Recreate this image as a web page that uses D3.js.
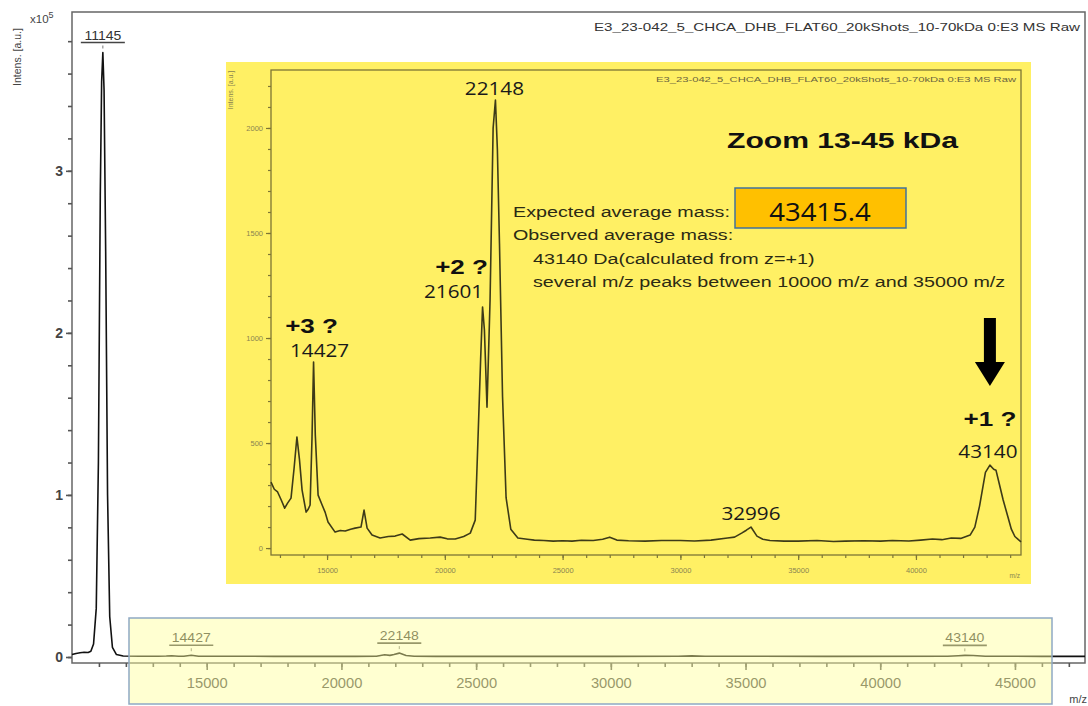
<!DOCTYPE html>
<html>
<head>
<meta charset="utf-8">
<script src="https://cdn.jsdelivr.net/npm/d3@7/dist/d3.min.js"></script>
<style>
  html, body { margin: 0; padding: 0; background: #fff; }
  svg { display: block; font-family: "Liberation Sans", Arial, sans-serif; }
</style>
</head>
<body>
<svg id="chart" width="1088" height="706"></svg>
<script>
// ---- Overview spectrum (m/z, intensity in a.u.) ----
const overviewMz = [10000, 10150, 10300, 10450, 10600, 10700, 10800, 10900, 10980, 11050, 11100, 11145, 11190, 11250, 11320, 11400, 11500, 11650, 11900, 12500,
  13200, 13500, 13700, 13950, 14150, 14427, 14700, 15200, 16600, 17500, 20500, 21300, 21601, 21800, 21950, 22148, 22400, 22700, 23500,
  30000, 32500, 32996, 33500, 38000, 42500, 42900, 43140, 43450, 43900, 46000, 47600];
const overviewInt = [1500, 2200, 2600, 2900, 2800, 3500, 8000, 30000, 120000, 285000, 355000, 373000, 350000, 250000, 100000, 25000, 6000, 1500, 600, 500,
  500, 600, 800, 500, 450, 1100, 500, 450, 500, 400, 400, 500, 1400, 1000, 1500, 2400, 900, 450, 400,
  400, 450, 700, 450, 400, 450, 800, 1000, 900, 450, 400, 400];

// ---- Zoomed spectrum 13-45 kDa ----
const zoomMz = [12620, 12760, 12900, 13050, 13200, 13330, 13470, 13600, 13720, 13830, 13940, 14110, 14200, 14280, 14360, 14427, 14500, 14620, 14790, 14920, 15040, 15340, 15560, 15770, 16000, 16190, 16440, 16570, 16700, 16910, 17250, 17600,
  17890, 18190, 18530, 18900, 19380, 19800, 20100, 20440, 20800, 21080, 21290, 21420, 21520, 21601, 21680, 21790, 21920, 22050, 22148, 22230, 22320, 22450, 22600, 22800, 23100, 23500,
  23800, 24200, 24600, 25000, 25400, 25800, 26300, 26700, 27000, 27300, 27800, 28500, 29200, 30000, 30600, 31300, 32000, 32300, 32600, 32800, 32996, 33250, 33500, 33800, 34400,
  35000, 35800, 36500, 37000, 37800, 38500, 39000, 39700, 40200, 40700, 41100, 41500, 41900, 42300, 42500, 42700, 42950, 43140, 43300, 43400, 43550, 43700, 43900, 44050, 44200, 44350, 44460];
const zoomInt = [314, 280, 267, 230, 190, 215, 238, 380, 529, 420, 276, 171, 185, 205, 520, 886, 540, 252, 205, 170, 124, 76, 84, 81, 90, 95, 100, 181, 95, 62, 48, 55,
  57, 67, 38, 45, 48, 52, 44, 43, 55, 71, 133, 562, 900, 1148, 1038, 671, 1181, 2000, 2133, 1900, 1450, 720, 240, 90, 48, 42,
  38, 36, 33, 35, 33, 37, 36, 42, 52, 38, 35, 33, 36, 36, 34, 38, 48, 52, 71, 85, 100, 57, 42, 36, 33,
  33, 36, 31, 33, 35, 33, 36, 34, 38, 43, 40, 48, 46, 62, 100, 200, 360, 395, 375, 370, 300, 230, 150, 90, 55, 40, 30];

// ---- Ticks and labels ----
const overviewYTicks = [0, 100000, 200000, 300000];
const overviewYTickLabels = ["0", "1", "2", "3"];
const overviewXTicks = [15000, 20000, 25000, 30000, 35000, 40000, 45000];
const zoomYTicks = [0, 500, 1000, 1500, 2000];
const zoomXTicks = [15000, 20000, 25000, 30000, 35000, 40000];

const overviewPeaks = [11145, 14427, 22148, 43140];
const zoomPeaks = [14427, 21601, 22148, 32996, 43140];
const zoomCharges = ["+3 ?", "+2 ?", "", "", "+1 ?"];
const expectedMass = "43415.4";
const fileTitle = "E3_23-042_5_CHCA_DHB_FLAT60_20kShots_10-70kDa 0:E3 MS Raw";
const notes = [
  "Expected average mass:",
  "Observed average mass:",
  "43140 Da(calculated from z=+1)",
  "several m/z peaks between 10000 m/z and 35000 m/z"
];

const svg = d3.select("#chart");
const overview = d3.zip(overviewMz, overviewInt);
const zoomed = d3.zip(zoomMz, zoomInt);
const valueAt = (mz, arrX, arrY) => {
  const i = arrX.indexOf(mz);
  return i >= 0 ? arrY[i] : 0;
};
// widen glyphs horizontally by factor k around the text's anchor point
function stretch(sel, k) {
  sel.each(function () {
    const t = d3.select(this);
    const ax = +t.attr("x") || 0;
    t.attr("transform", `translate(${ax},0) scale(${k},1) translate(${-ax},0)`);
  });
  return sel;
}

// ================= Overview plot =================
const x = d3.scaleLinear().domain([10000, 47600]).range([72, 1085]);
const y = d3.scaleLinear().domain([-3700, 398000]).range([663, 12]);
const axisColor = "#555";

svg.append("rect")
  .attr("x", x.range()[0]).attr("y", y.range()[1])
  .attr("width", x.range()[1] - x.range()[0]).attr("height", y.range()[0] - y.range()[1])
  .attr("fill", "none").attr("stroke", "#666").attr("stroke-width", 1.5);

const gyMinor = svg.append("g").attr("transform", `translate(${x.range()[0]},0)`)
  .call(d3.axisLeft(y).tickValues(d3.range(0, 390000, 20000)).tickSize(4).tickFormat(""));
const gy = svg.append("g").attr("transform", `translate(${x.range()[0]},0)`)
  .call(d3.axisLeft(y).tickValues(overviewYTicks).tickSize(6)
    .tickFormat((d, i) => overviewYTickLabels[i]));
[gyMinor, gy].forEach(g => {
  g.select(".domain").remove();
  g.selectAll("line").attr("stroke", axisColor).attr("stroke-width", 1.6);
});
gy.selectAll("text").attr("fill", "#444").attr("font-size", 14).attr("font-weight", "bold").attr("x", -9);

const gxMinor = svg.append("g").attr("transform", `translate(0,${y.range()[0]})`)
  .call(d3.axisBottom(x).tickValues(d3.range(11000, 47601, 1000)).tickSize(4).tickFormat(""));
const gx = svg.append("g").attr("transform", `translate(0,${y.range()[0]})`)
  .call(d3.axisBottom(x).tickValues(overviewXTicks).tickSize(7).tickFormat(d3.format("d")));
[gxMinor, gx].forEach(g => {
  g.select(".domain").remove();
  g.selectAll("line").attr("stroke", axisColor).attr("stroke-width", 1.6);
});
gx.selectAll("text").attr("fill", "#444").attr("font-size", 14).attr("dy", "1.05em");
stretch(gx.selectAll("text"), 1.05);

svg.append("text").attr("transform", "translate(21,57) rotate(-90)")
  .attr("text-anchor", "middle").attr("font-size", 10.5).attr("fill", "#444").text("Intens. [a.u.]");
const exp = svg.append("text").attr("x", 30).attr("y", 23).attr("font-size", 11.5).attr("fill", "#444");
exp.append("tspan").text("x10");
exp.append("tspan").attr("dy", -5).attr("font-size", 9).text("5");
svg.append("text").attr("x", 1087).attr("y", 703).attr("text-anchor", "end")
  .attr("font-size", 11).attr("fill", "#444").text("m/z");

svg.append("text").attr("x", 1080).attr("y", 31).attr("text-anchor", "end")
  .attr("font-size", 11).attr("fill", "#333")
  .attr("textLength", 486).attr("lengthAdjust", "spacingAndGlyphs").text(fileTitle);

const line = d3.line().x(d => x(d[0])).y(d => y(d[1]));
svg.append("path").datum(overview)
  .attr("d", line).attr("fill", "none").attr("stroke", "#111").attr("stroke-width", 1.6)
  .attr("stroke-linejoin", "round");

// peak labels: value, underline bar, small marker tick
overviewPeaks.forEach(mz => {
  const px = x(mz);
  const ty = y(valueAt(mz, overviewMz, overviewInt)) - 10;
  const t = svg.append("text").attr("x", px).attr("y", ty - 3).attr("text-anchor", "middle")
    .attr("font-size", 13).attr("fill", "#333").text(mz);
  stretch(t, 1.08);
  svg.append("line").attr("x1", px - 22).attr("x2", px + 22).attr("y1", ty).attr("y2", ty)
    .attr("stroke", "#444").attr("stroke-width", 1.6);
  svg.append("line").attr("x1", px).attr("x2", px).attr("y1", ty + 3).attr("y2", ty + 6)
    .attr("stroke", "#777").attr("stroke-width", 1);
});

// highlighted range under the overview axis
svg.append("rect").attr("x", 129).attr("y", 618).attr("width", 923).attr("height", 86)
  .attr("fill", "#ffff99").attr("fill-opacity", 0.45)
  .attr("stroke", "#8fa9c4").attr("stroke-width", 1.5);

// ================= Zoom panel 13-45 kDa =================
const panel = svg.append("g");
panel.append("rect").attr("x", 226).attr("y", 62).attr("width", 805).attr("height", 522)
  .attr("fill", "#fff064");

const xi = d3.scaleLinear().domain([12620, 44460]).range([271, 1021]);
const yi = d3.scaleLinear().domain([-33, 2276]).range([555, 70]);
const olive = "#7d7535";

panel.append("rect")
  .attr("x", xi.range()[0]).attr("y", yi.range()[1])
  .attr("width", xi.range()[1] - xi.range()[0]).attr("height", yi.range()[0] - yi.range()[1])
  .attr("fill", "none").attr("stroke", olive).attr("stroke-width", 1.3);

const pyMinor = panel.append("g").attr("transform", `translate(${xi.range()[0]},0)`)
  .call(d3.axisLeft(yi).tickValues(d3.range(0, 2201, 100)).tickSize(3).tickFormat(""));
const py = panel.append("g").attr("transform", `translate(${xi.range()[0]},0)`)
  .call(d3.axisLeft(yi).tickValues(zoomYTicks).tickSize(5).tickFormat(d3.format("d")));
const pxMinor = panel.append("g").attr("transform", `translate(0,${yi.range()[0]})`)
  .call(d3.axisBottom(xi).tickValues(d3.range(13000, 44001, 1000)).tickSize(3).tickFormat(""));
const px = panel.append("g").attr("transform", `translate(0,${yi.range()[0]})`)
  .call(d3.axisBottom(xi).tickValues(zoomXTicks).tickSize(5).tickFormat(d3.format("d")));
[pyMinor, py, pxMinor, px].forEach(g => {
  g.select(".domain").remove();
  g.selectAll("line").attr("stroke", olive).attr("stroke-width", 1.2);
  g.selectAll("text").attr("fill", "#8a8450").attr("font-size", 7.5);
});
px.selectAll("text").attr("dy", "1.3em");

panel.append("text").attr("transform", "translate(233,90) rotate(-90)")
  .attr("text-anchor", "middle").attr("font-size", 7).attr("fill", "#8a8450").text("Intens. [a.u.]");
panel.append("text").attr("x", 1020).attr("y", 578).attr("text-anchor", "end")
  .attr("font-size", 6.5).attr("fill", "#8a8450").text("m/z");
panel.append("text").attr("x", 1016).attr("y", 82).attr("text-anchor", "end")
  .attr("font-size", 7).attr("fill", "#6b6540")
  .attr("textLength", 360).attr("lengthAdjust", "spacingAndGlyphs").text(fileTitle);

const lineI = d3.line().x(d => xi(d[0])).y(d => yi(d[1]));
panel.append("path").datum(zoomed)
  .attr("d", lineI).attr("fill", "none").attr("stroke", "#3d3a18").attr("stroke-width", 1.6)
  .attr("stroke-linejoin", "round");

// peak annotations: [number dx, number dy, charge dx, charge dy] relative to the peak apex
const labelPlacement = {
  14427: [6, -5, -2, -29],
  21601: [-29, -9, -21, -33],
  22148: [-1, -5, 0, 0],
  32996: [0, -7, 0, 0],
  43140: [-2, -7, 0, -39]
};
const labelFont = "'Open Sans', 'Noto Sans', sans-serif";
zoomPeaks.forEach((mz, i) => {
  const cx = xi(mz);
  const top = yi(valueAt(mz, zoomMz, zoomInt));
  const [ndx, ndy, cdx, cdy] = labelPlacement[mz];
  const t = panel.append("text").attr("x", cx + ndx).attr("y", top + ndy).attr("text-anchor", "middle")
    .attr("font-family", labelFont).attr("font-size", 18).attr("fill", "#1a1a1a").text(mz);
  stretch(t, 1.15);
  if (zoomCharges[i]) {
    const c = panel.append("text").attr("x", cx + cdx).attr("y", top + cdy).attr("text-anchor", "middle")
      .attr("font-size", 20).attr("font-weight", "bold").attr("fill", "#111").text(zoomCharges[i]);
    stretch(c, 1.3);
  }
});

// arrow pointing down at the +1 peak
const ax = xi(43140);
panel.append("path")
  .attr("d", `M${ax - 6},318 L${ax + 6},318 L${ax + 6},362 L${ax + 15},362 L${ax},386 L${ax - 15},362 L${ax - 6},362 Z`)
  .attr("fill", "#000");

const heading = panel.append("text").attr("x", 727).attr("y", 148)
  .attr("font-size", 22).attr("font-weight", "bold").attr("fill", "#111").text("Zoom 13-45 kDa");
stretch(heading, 1.37);

const noteSel = panel.selectAll("text.note").data(notes).join("text").attr("class", "note")
  .attr("x", (d, i) => (i < 2 ? 513 : 533)).attr("y", (d, i) => 217 + i * 23.5)
  .attr("font-size", 14.5).attr("fill", "#2b2a14").text(d => d);
stretch(noteSel, 1.36);

panel.append("rect").attr("x", 735).attr("y", 188).attr("width", 171).attr("height", 40)
  .attr("fill", "#ffc000").attr("stroke", "#41719c").attr("stroke-width", 1.5);
const massText = panel.append("text").attr("x", 820).attr("y", 221).attr("text-anchor", "middle")
  .attr("font-family", labelFont).attr("font-size", 25).attr("fill", "#111").text(expectedMass);
stretch(massText, 1.1);
</script>
</body>
</html>
